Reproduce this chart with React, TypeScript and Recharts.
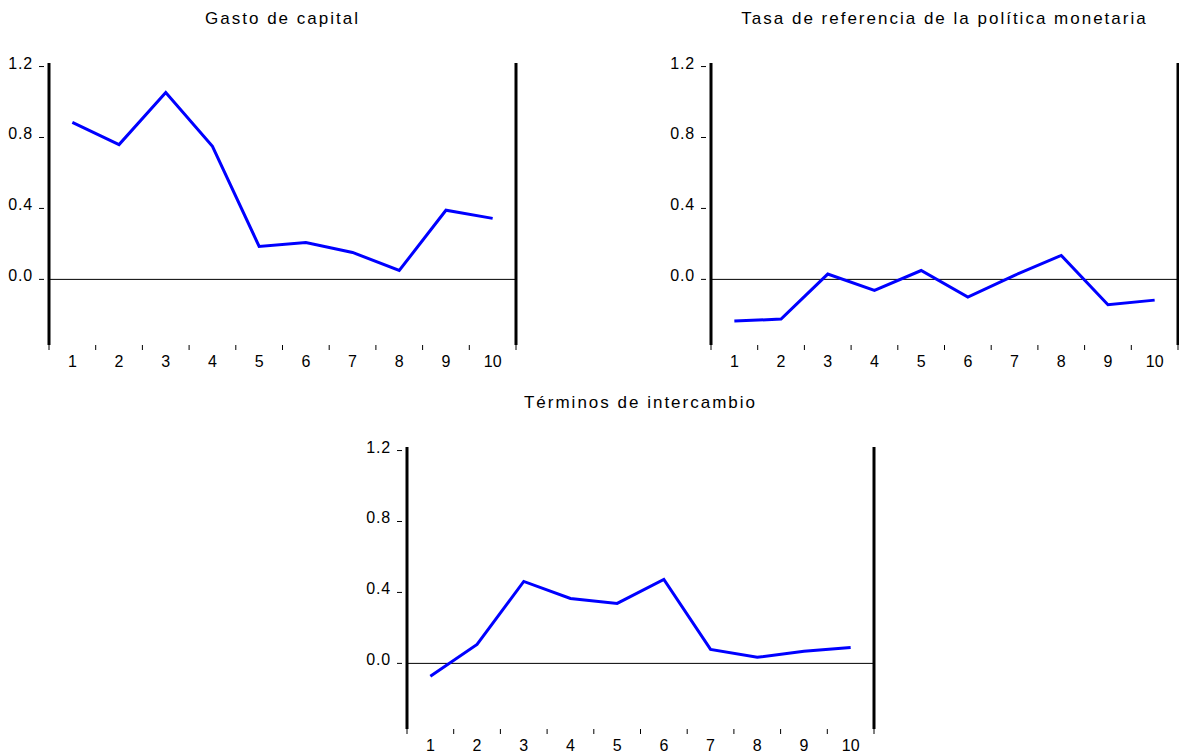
import { LineChart, Line, XAxis, YAxis, ReferenceLine } from 'recharts';

const periods = [1, 2, 3, 4, 5, 6, 7, 8, 9, 10];
const gastoCapital = [0.885, 0.76, 1.054, 0.75, 0.186, 0.208, 0.152, 0.05, 0.39, 0.344];
const tasaReferencia = [-0.235, -0.224, 0.03, -0.062, 0.05, -0.1, 0.023, 0.135, -0.143, -0.117];
const terminosIntercambio = [-0.072, 0.107, 0.462, 0.366, 0.338, 0.473, 0.079, 0.034, 0.068, 0.09];
const yTicks = [0, 0.4, 0.8, 1.2];
const yDomain = [-0.37, 1.22];

// labels on the whole periods, small marks half way between them
const xTicks = [...periods.map((p) => p - 0.5), periods[periods.length - 1] + 0.5, ...periods];

const FONT = '"Liberation Sans", Arial, sans-serif';
const PLOT_W = 467;
const PLOT_H = 282;
const AXIS_W = 60;
const PAD_TOP = 14;

const YTick = (props: any) => {
  const { x, y, payload } = props;
  return (
    <g>
      <line x1={x - 10} x2={x - 5} y1={y} y2={y} stroke="#000" strokeWidth={1} />
      <text x={x - 16} y={y + 2} textAnchor="end" fontSize={16} fontFamily={FONT} fill="#000" letterSpacing={0.8}>
        {Number(payload.value).toFixed(1)}
      </text>
    </g>
  );
};

const XTick = (props: any) => {
  const { x, y, payload } = props;
  if (Number.isInteger(payload.value)) {
    return (
      <text x={x} y={y + 22} textAnchor="middle" fontSize={16} fontFamily={FONT} fill="#000">
        {payload.value}
      </text>
    );
  }
  return <line x1={x} x2={x} y1={y} y2={y + 5} stroke="#000" strokeWidth={1} />;
};

interface PanelProps {
  title: string;
  values: number[];
  left: number;
  top: number;
}

const Panel = ({ title, values, left, top }: PanelProps) => {
  const rows = periods.map((p, i) => ({ period: p, value: values[i] }));
  return (
    <>
      <div
        style={{
          position: 'absolute',
          left,
          top: top - 54,
          width: PLOT_W,
          textAlign: 'center',
          fontFamily: FONT,
          fontSize: 17,
          lineHeight: '20px',
          letterSpacing: 2,
          color: '#000',
          whiteSpace: 'nowrap',
        }}
      >
        {title}
      </div>
      <div style={{ position: 'absolute', left: left - AXIS_W, top: top - PAD_TOP }}>
        <LineChart
          width={AXIS_W + PLOT_W + 3}
          height={PAD_TOP + PLOT_H + 40}
          data={rows}
          margin={{ top: PAD_TOP, right: 3, bottom: 0, left: 0 }}
        >
          <XAxis
            dataKey="period"
            type="number"
            domain={[0.5, 10.5]}
            ticks={xTicks}
            interval={0}
            axisLine={false}
            tickLine={false}
            tickSize={0}
            tickMargin={0}
            height={40}
            tick={<XTick />}
          />
          <YAxis
            type="number"
            domain={yDomain}
            ticks={yTicks}
            allowDataOverflow
            width={AXIS_W}
            axisLine={{ stroke: '#000', strokeWidth: 3 }}
            tickLine={false}
            tickSize={0}
            tickMargin={0}
            tick={<YTick />}
          />
          <ReferenceLine y={0} stroke="#000" strokeWidth={1} />
          <ReferenceLine x={10.5} stroke="#000" strokeWidth={3} />
          <Line type="linear" dataKey="value" stroke="#0000ff" strokeWidth={3} dot={false} isAnimationActive={false} />
        </LineChart>
      </div>
    </>
  );
};

export default function App() {
  return (
    <div style={{ position: 'absolute', left: 0, top: 0, width: 1179, height: 754, overflow: 'hidden', background: '#fff' }}>
      <Panel title="Gasto de capital" values={gastoCapital} left={49} top={63} />
      <Panel title="Tasa de referencia de la política monetaria" values={tasaReferencia} left={711} top={63} />
      <Panel title="Términos de intercambio" values={terminosIntercambio} left={407} top={447} />
    </div>
  );
}
